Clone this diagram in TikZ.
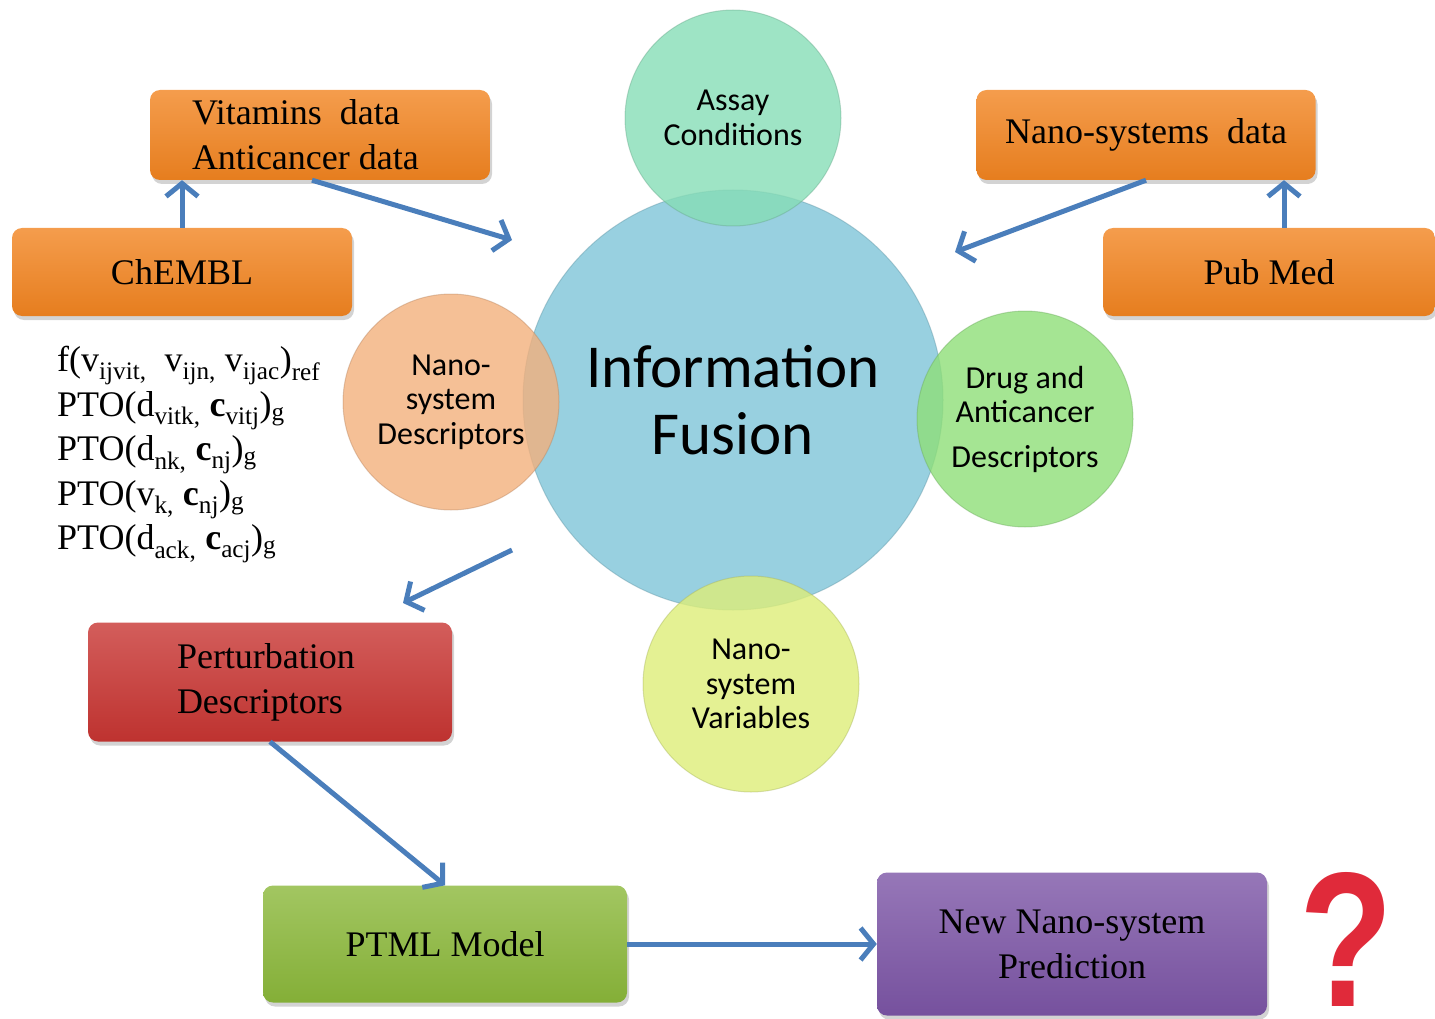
\documentclass[tikz,border=0pt]{standalone}
\usepackage{fontspec}
\setmainfont{Liberation Serif}
\newfontfamily\circfont{Carlito}
\newfontfamily\qfont{Liberation Sans}
\usepackage{tikz}
\usetikzlibrary{arrows.meta,shadows,calc}
\definecolor{arrowblue}{HTML}{4A7EBB}
\definecolor{fusionblue}{HTML}{7EC4D8}
\definecolor{assaygreen}{HTML}{86DDB6}
\definecolor{descpeach}{HTML}{F3B07C}
\definecolor{druggreen}{HTML}{8EDF78}
\definecolor{varyellow}{HTML}{DDEE78}
\definecolor{boxorange}{HTML}{F28420}
\definecolor{boxred}{HTML}{C83532}
\definecolor{boxgreen}{HTML}{8BB83A}
\definecolor{boxpurple}{HTML}{7C55A6}
\definecolor{qred}{HTML}{E02A3A}

\tikzset{
  bubble/.style={circle, inner sep=0pt, minimum size=216pt, fill=#1, fill opacity=0.8,
    text opacity=1, draw=#1!75!black, draw opacity=0.4, line width=1pt,
    align=center, font=\circfont\fontsize{32}{34.5}\selectfont},
  databox/.style={rectangle, rounded corners=10pt, inner sep=0pt,
    top color=#1!80!white, bottom color=#1!95!black,
    drop shadow={opacity=0.35, shadow xshift=2pt, shadow yshift=-4pt},
    font=\fontsize{36}{45}\selectfont},
  flow/.style={draw=arrowblue, line width=5pt, -{Straight Barb[length=13pt,width=32pt]}},
}

\begin{document}
\begin{tikzpicture}[x=1pt, y=-1pt]
    \useasboundingbox (0,0) rectangle (1435,1019);

    % Fusion circle and its satellites
    \node[bubble=fusionblue, minimum size=420pt, font=\circfont\fontsize{61}{67}\selectfont] (fusion) at (733,400) {Information\\Fusion};
    \node[bubble=assaygreen] (assay) at (733,118) {Assay\\Conditions};
    \node[bubble=descpeach] (nanodesc) at (451,402) {Nano-\\system\\Descriptors};
    \node[bubble=druggreen] (drugdesc) at (1025,419) {Drug and\\Anticancer\\[10pt]Descriptors};
    \node[bubble=varyellow] (nanovar) at (751,684) {Nano-\\system\\Variables};

    % Data sources
    \node[databox=boxorange, minimum width=340pt, minimum height=90pt, text width=256pt, align=flush left] (vitamins) at (320,135) {Vitamins\ \ data\\Anticancer data};
    \node[databox=boxorange, minimum width=340pt, minimum height=88pt] (chembl) at (182,272) {ChEMBL};
    \node[databox=boxorange, minimum width=339pt, minimum height=90pt] (nanodata) at (1146,135) {Nano-systems\ \ data};
    \node[databox=boxorange, minimum width=332pt, minimum height=88pt] (pubmed) at (1269,272) {Pub Med};

    % Model chain
    \node[databox=boxred, minimum width=364pt, minimum height=119pt, text width=186pt, align=flush left] (perturb) at (270,682) {Perturbation\\Descriptors};
    \node[databox=boxgreen, minimum width=364pt, minimum height=117pt] (ptml) at (445,944) {PTML Model};
    \node[databox=boxpurple, minimum width=390pt, minimum height=143pt, align=center] (newpred) at (1072,944) {New Nano-system\\Prediction};

    \node[anchor=north west, inner sep=0pt, align=left, font=\fontsize{36}{44.5}\selectfont] (formulas) at (57,346)
      {f(v\textsubscript{ijvit,}\ \ v\textsubscript{ijn,} v\textsubscript{ijac})\textsubscript{ref}\\
       PTO(d\textsubscript{vitk,} \textbf{c}\textsubscript{vitj})\textsubscript{g}\\
       PTO(d\textsubscript{nk,} \textbf{c}\textsubscript{nj})\textsubscript{g}\\
       PTO(v\textsubscript{k,} \textbf{c}\textsubscript{nj})\textsubscript{g}\\
       PTO(d\textsubscript{ack,} \textbf{c}\textsubscript{acj})\textsubscript{g}};

    \node[text=qred, inner sep=0pt, anchor=base, font=\qfont\bfseries\fontsize{192}{192}\selectfont] (qmark) at (1346,1006) {\scalebox{0.8}[1]{?}};

    % Free arrow ends near the fusion circle
    \coordinate (vitin) at (512,240);
    \coordinate (nanoin) at (955,252);
    \coordinate (fusout) at (512,550);
    \coordinate (descin) at (403,603);

    \draw[flow] (chembl.north) -- (chembl.north |- vitamins.south);
    \draw[flow] ([xshift=15pt]pubmed.north) -- ([xshift=15pt]pubmed.north |- nanodata.south);
    \draw[flow] ([xshift=-8pt]vitamins.south) -- (vitin);
    \draw[flow] (nanodata.south) -- (nanoin);
    \draw[flow] (fusout) -- (descin);
    \draw[flow] (perturb.south) -- (ptml.north);
    \draw[flow] (ptml.east) -- (newpred.west);
\end{tikzpicture}
\end{document}
